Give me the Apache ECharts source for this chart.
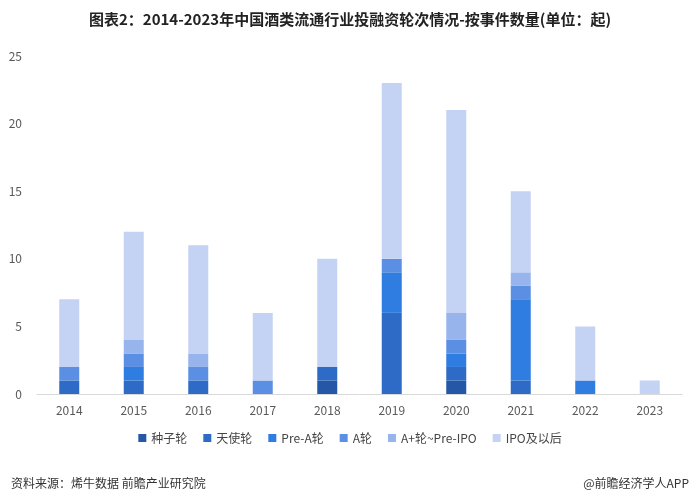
<!DOCTYPE html>
<html><head><meta charset="utf-8">
<script src="https://cdn.jsdelivr.net/npm/echarts@6/dist/echarts.min.js"></script>
<style>html,body{margin:0;padding:0;background:#fff;}#c{width:700px;height:501px;}</style>
</head><body><div id="c"></div>
<script>
const years = ['2014','2015','2016','2017','2018','2019','2020','2021','2022','2023'];
const seed   = [0,0,0,0,1,0,1,0,0,0];
const angel  = [1,1,1,0,1,6,1,1,0,0];
const preA   = [0,1,0,0,0,3,1,6,1,0];
const roundA = [1,1,1,1,0,1,1,1,0,0];
const aPlus  = [0,1,1,0,0,0,2,1,0,0];
const ipo    = [5,8,8,5,8,13,15,6,4,1];
const seriesNames = ['种子轮','天使轮','Pre-A轮','A轮','A+轮~Pre-IPO','IPO及以后'];
const seriesData = [seed, angel, preA, roundA, aPlus, ipo];
const colors = ['#2557a7','#2d6bc6','#2f7de1','#5b8fe3','#97b4ec','#c4d3f3'];
const font = '"Noto Sans CJK SC","Noto Sans",sans-serif';
const chart = echarts.init(document.getElementById('c'));
chart.setOption({
  animation:false,
  color: colors,
  title:[
    {text:'图表2：2014-2023年中国酒类流通行业投融资轮次情况-按事件数量(单位：起)',left:'center',top:7,
     textStyle:{fontFamily:font,fontSize:15,fontWeight:'bold',color:'#222'}},
    {text:'资料来源：烯牛数据 前瞻产业研究院',left:6,top:472,textStyle:{fontFamily:font,fontSize:12,fontWeight:'normal',color:'#333'}},
    {text:'@前瞻经济学人APP',right:6,top:472,textStyle:{fontFamily:font,fontSize:12,fontWeight:'normal',color:'#333'}}
  ],
  legend:{data:seriesNames,bottom:52,left:'center',itemWidth:8,itemHeight:8,itemGap:16,icon:'rect',
    textStyle:{fontFamily:font,fontSize:12,color:'#444'}},
  grid:{left:37,right:18,top:56,bottom:107,containLabel:false},
  xAxis:{type:'category',data:years,axisTick:{show:false},
    axisLine:{lineStyle:{color:'#d9d9d9'}},
    axisLabel:{fontFamily:font,fontSize:12,color:'#595959',margin:10}},
  yAxis:{type:'value',min:0,max:25,interval:5,splitLine:{show:false},
    axisLine:{show:false},axisTick:{show:false},
    axisLabel:{fontFamily:font,fontSize:12,color:'#595959',margin:15}},
  series: seriesNames.map((n,i)=>({name:n,type:'bar',stack:'total',barWidth:20,data:seriesData[i]}))
});
</script></body></html>
